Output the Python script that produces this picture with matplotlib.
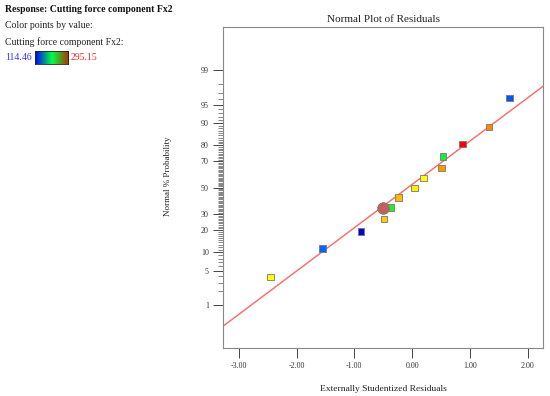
import numpy as np
import matplotlib.pyplot as plt
from matplotlib.colors import LinearSegmentedColormap
from statistics import NormalDist

# residuals (x) and normal probability (%) of each run
residuals = [-2.447, -1.553, -0.884, -0.486, -0.371, -0.238, 0.044,
             0.200, 0.506, 0.535, 0.869, 1.325, 1.682]
probability = [3.85, 11.5, 19.2, 26.9, 34.6, 42.3, 50.0,
               57.7, 65.4, 73.1, 80.8, 88.5, 96.2]
point_colors = ['#ffff00', '#0066ff', '#0000e6', '#ffcc00', '#22ee22', '#ffbb00', '#ffee00',
                '#ffff11', '#ff9900', '#11ee44', '#ff0000', '#ff8800', '#0055ff']

# highlighted run (drawn as circle)
sel_residual = -0.503
sel_probability = 34.6

# reference line (in normal-score units): z = a + b * x
line_a, line_b = 0.067, 0.859

prob_ticks = [1, 5, 10, 20, 30, 50, 70, 80, 90, 95, 99]
x_ticks = [-3, -2, -1, 0, 1, 2]

value_min, value_max = 114.46, 295.15

nd = NormalDist()
def z(p):
    return nd.inv_cdf(np.asarray(p) / 100.0) if np.ndim(p) == 0 else np.array([nd.inv_cdf(v / 100.0) for v in p])

plt.rcParams['font.family'] = 'Liberation Serif'

fig = plt.figure(figsize=(5.5, 3.96), dpi=100)
ax = fig.add_axes([0.405, 0.122, 0.583, 0.809])

xlim = (-3.277, 2.27)
ax.set_xlim(*xlim)
ax.set_ylim(-3.17, 3.18)

xs = np.array(xlim)
ax.plot(xs, line_a + line_b * xs, color='#ff6666', lw=1.0, zorder=2)

ax.scatter(residuals, z(probability), marker='s', s=22, c=point_colors,
           edgecolors='#777777', linewidths=0.6, zorder=3)
ax.scatter([sel_residual], [z(sel_probability)], marker='o', s=70, c='#c06060',
           edgecolors='#777777', linewidths=0.6, zorder=4)

ax.set_xticks(x_ticks)
ax.set_xticklabels(['%.2f' % v for v in x_ticks])
ax.set_yticks(z(prob_ticks))
ax.set_yticklabels([str(p) for p in prob_ticks])
ax.set_yticks(z(list(range(1, 100))), minor=True)
ax.tick_params(axis='both', which='major', labelsize=5.8, length=7, width=0.7,
               color='#444444', labelcolor='#333333', pad=3)
ax.tick_params(axis='y', which='minor', length=3.5, width=0.5, color='#555555')
for s in ax.spines.values():
    s.set_color('#888888')
    s.set_linewidth(0.8)

ax.set_title('Normal Plot of Residuals', fontsize=8, color='#222222', pad=4)
ax.set_xlabel('Externally Studentized Residuals', fontsize=6.8, color='#222222', labelpad=11)
fig.text(168 / 550, 1 - 176 / 396, 'Normal % Probability', rotation=90,
         fontsize=6.5, color='#222222', ha='center', va='center')

# left-hand info block
fig.text(5 / 550, 1 - 10 / 396, 'Response: Cutting force component Fx2',
         fontsize=7, fontweight='bold', color='#111111', va='center')
fig.text(5 / 550, 1 - 26 / 396, 'Color points by value:', fontsize=7, color='#222222', va='center')
fig.text(5 / 550, 1 - 42 / 396, 'Cutting force component Fx2:', fontsize=7, color='#222222', va='center')
fig.text(5 / 550, 1 - 57 / 396, '%.2f' % value_min, fontsize=7, color='#3333ff', va='center')
fig.text(71 / 550, 1 - 57 / 396, '%.2f' % value_max, fontsize=7, color='#ff2222', va='center')

cmap = LinearSegmentedColormap.from_list('bgr', ['#0000ff', '#00ff44', '#b03000'])
cax = fig.add_axes([35 / 550, 1 - 64 / 396, 33 / 550, 13 / 396])
cax.imshow(np.linspace(0, 1, 100)[None, :], aspect='auto', cmap=cmap)
cax.set_xticks([])
cax.set_yticks([])
for s in cax.spines.values():
    s.set_color('#222222')
    s.set_linewidth(0.6)

fig.savefig('out.png', dpi=100)
